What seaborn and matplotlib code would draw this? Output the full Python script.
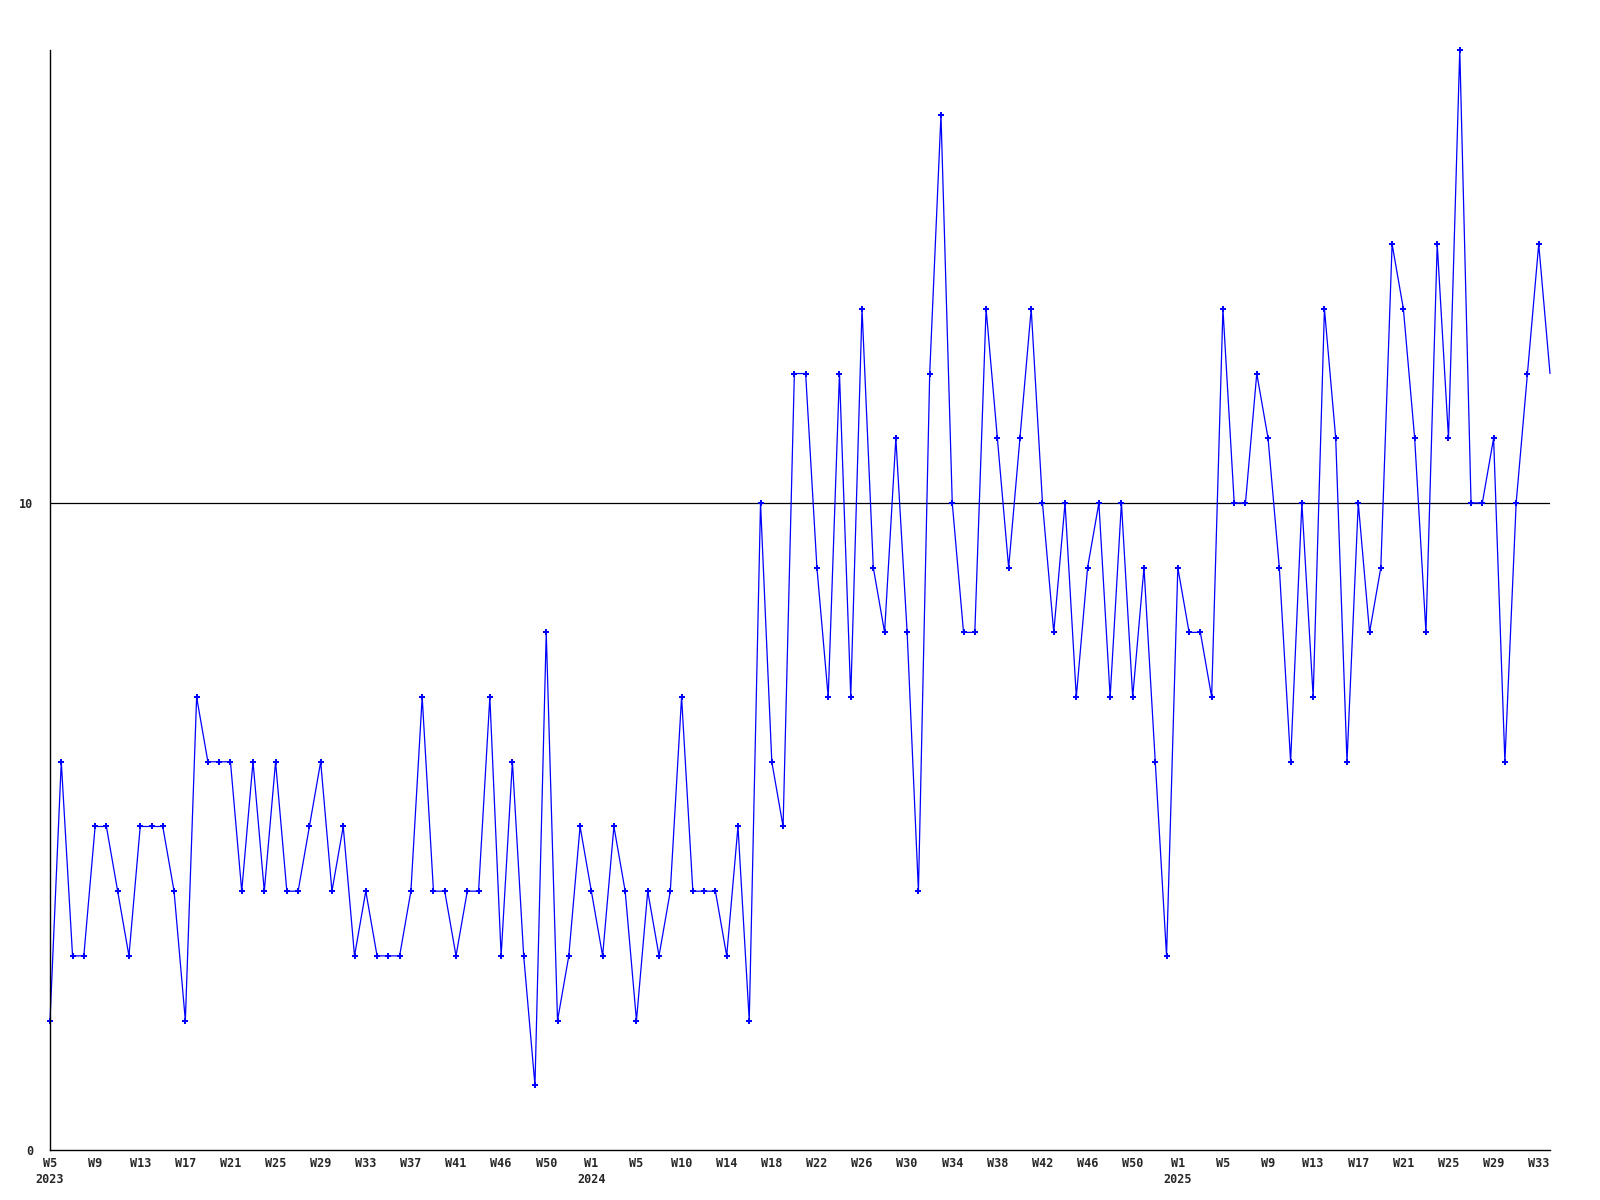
# weekly counts, 2023 W5 .. 2025 W34

import numpy as np
import pandas as pd
import matplotlib
matplotlib.use('Agg')
import matplotlib.pyplot as plt
import seaborn as sns

# ==========================================
# DATA
# ==========================================

values_2023_a = [2, 6, 3, 3, 5, 5, 4, 3, 5, 5, 5, 4, 2, 7, 6, 6, 6, 4, 6, 4, 6, 4, 4,
                 5, 6, 4, 5, 3, 4, 3, 3, 3, 4, 7, 4, 4, 3, 4, 4, 7, 3, 6, 3, 1, 8, 2]
values_2024_a = [3, 5, 4, 3, 5, 4, 2, 4, 3, 4, 7, 4, 4, 4, 3, 5, 2, 10, 6, 5]
values_2024_b = [12, 12, 9, 7, 12, 7, 13, 9, 8, 11, 8, 4, 12, 16, 10, 8, 8, 13, 11, 9,
                 11, 13, 10, 8, 10, 7, 9, 10, 7, 10, 7, 9, 6, 3, 9, 8, 8, 7, 13, 10,
                 10, 12, 11, 9, 6, 10, 7, 13, 11, 6, 10, 8, 9, 14, 13, 11, 8, 14, 11, 17,
                 10, 10, 11, 6, 10, 12, 14, 12]

values = values_2023_a + values_2024_a + values_2024_b
week_index = list(range(len(values)))

tick_labels = ['W5\n2023', 'W9', 'W13', 'W17', 'W21', 'W25', 'W29', 'W33', 'W37', 'W41',
               'W46', 'W50',
               'W1\n2024', 'W5', 'W10', 'W14', 'W18', 'W22', 'W26', 'W30', 'W34', 'W38',
               'W42', 'W46', 'W50',
               'W1\n2025', 'W5', 'W9', 'W13', 'W17', 'W21', 'W25', 'W29', 'W33']
tick_step = 4

y_ticks = [0, 10]

df = pd.DataFrame({'week': week_index, 'count': values})

# ==========================================
# PLOT
# ==========================================

sns.set_style('white')
plt.rcParams['font.family'] = ['DejaVu Sans Mono']

fig = plt.figure(figsize=(16, 12), dpi=100)
ax = fig.add_axes([50 / 1600, 50 / 1200, 1500 / 1600, 1100 / 1200])

sns.lineplot(
    data=df,
    x='week',
    y='count',
    color='#0000ff',
    linewidth=0.9,
    marker='P',
    markersize=4.5,
    markeredgewidth=0,
    markevery=list(range(len(values) - 1)),
    clip_on=False,
    ax=ax
)

ax.set_xlim(0, len(values) - 1)
ax.set_ylim(0, 17)

ax.set_xticks(week_index[::tick_step])
ax.set_xticklabels(tick_labels, fontsize=8.5, fontweight='bold', linespacing=1.3)
ax.set_yticks(y_ticks)
ax.set_yticklabels([str(v) for v in y_ticks], fontsize=8.5, fontweight='bold')
ax.tick_params(axis='both', length=0)
ax.tick_params(axis='x', pad=5)
ax.tick_params(axis='y', pad=12)
for lbl in ax.get_xticklabels():
    lbl.set_verticalalignment('top')

ax.axhline(10, color='black', linewidth=0.9, zorder=1)

ax.set_xlabel('')
ax.set_ylabel('')

sns.despine(ax=ax)
ax.spines['left'].set_color('black')
ax.spines['bottom'].set_color('black')
ax.spines['left'].set_linewidth(1)
ax.spines['bottom'].set_linewidth(1)

fig.savefig('out.png', dpi=100, facecolor='white')
